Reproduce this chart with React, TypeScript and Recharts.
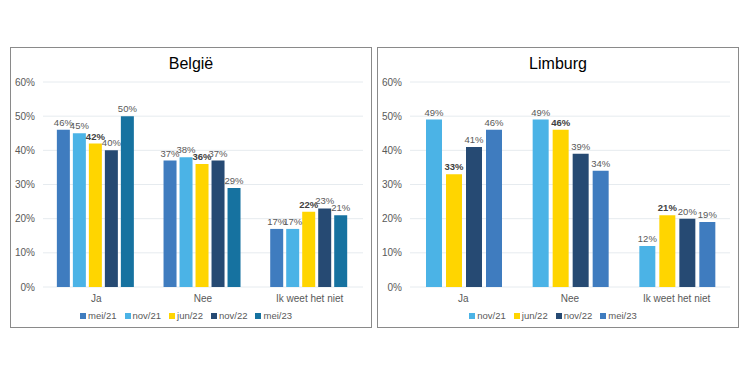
import React from "react";
import { BarChart, Bar, XAxis, YAxis, CartesianGrid, Legend, LabelList } from "recharts";

const categories = ["Ja", "Nee", "Ik weet het niet"];

// België
const belgieSeries = ["mei/21", "nov/21", "jun/22", "nov/22", "mei/23"];
const belgieMei21 = [46, 37, 17];
const belgieNov21 = [45, 38, 17];
const belgieJun22 = [42, 36, 22];
const belgieNov22 = [40, 37, 23];
const belgieMei23 = [50, 29, 21];

// Limburg
const limburgSeries = ["nov/21", "jun/22", "nov/22", "mei/23"];
const limburgNov21 = [49, 49, 12];
const limburgJun22 = [33, 46, 21];
const limburgNov22 = [41, 39, 20];
const limburgMei23 = [46, 34, 19];

const yTicks = [0, 10, 20, 30, 40, 50, 60];

const FONT = "'Liberation Sans', Arial, sans-serif";
const TEXT = "#595959";

const belgieColors: Record<string, string> = {
  "mei/21": "#3F7CBF",
  "nov/21": "#4BB3E6",
  "jun/22": "#FFD500",
  "nov/22": "#264A73",
  "mei/23": "#1672A0",
};
const limburgColors: Record<string, string> = {
  "nov/21": "#4BB3E6",
  "jun/22": "#FFD500",
  "nov/22": "#264A73",
  "mei/23": "#3F7CBF",
};

const belgieData = categories.map((c, i) => ({
  name: c,
  "mei/21": belgieMei21[i],
  "nov/21": belgieNov21[i],
  "jun/22": belgieJun22[i],
  "nov/22": belgieNov22[i],
  "mei/23": belgieMei23[i],
}));

const limburgData = categories.map((c, i) => ({
  name: c,
  "nov/21": limburgNov21[i],
  "jun/22": limburgJun22[i],
  "nov/22": limburgNov22[i],
  "mei/23": limburgMei23[i],
}));

function LegendContent({ payload, order }: any) {
  const items = [...(payload || [])].sort(
    (a: any, b: any) => order.indexOf(a.value) - order.indexOf(b.value)
  );
  return (
    <div style={{ display: "flex", justifyContent: "center", height: 20, alignItems: "center", gap: 8 }}>
      {items.map((p: any) => (
        <span
          key={p.value}
          style={{ display: "flex", alignItems: "center", fontSize: 9.5, color: TEXT, fontFamily: FONT }}
        >
          <span style={{ width: 6, height: 6, background: p.color, marginRight: 2, display: "inline-block" }} />
          {p.value}
        </span>
      ))}
    </div>
  );
}

interface PanelProps {
  title: string;
  left: number;
  width: number;
  data: any[];
  series: string[];
  colors: Record<string, string>;
  yWidth: number;
  gap: string;
  barGap: number;
}

function Panel({ title, left, width, data, series, colors, yWidth, gap, barGap }: PanelProps) {
  return (
    <div
      style={{
        position: "absolute",
        left,
        top: 47,
        width,
        height: 281,
        border: "1.5px solid #8a8a8a",
        boxSizing: "border-box",
        background: "#fff",
      }}
    >
      <div
        style={{
          position: "absolute",
          top: 7,
          width: "100%",
          textAlign: "center",
          fontFamily: FONT,
          fontSize: 16,
          color: "#000",
        }}
      >
        {title}
      </div>
      <div style={{ position: "absolute", left: -1.5, top: -1.5 }}>
        <BarChart
          width={width}
          height={281}
          data={data}
          margin={{ top: 35, right: width - yWidth - 320, bottom: 0, left: 0 }}
          barCategoryGap={gap}
          barGap={barGap}
        >
          <CartesianGrid vertical={false} stroke="#E6EBEF" />
          <XAxis
            dataKey="name"
            axisLine={false}
            tickLine={false}
            height={21}
            tick={{ fill: TEXT, fontSize: 10, fontFamily: FONT }}
          />
          <YAxis
            domain={[0, 60]}
            ticks={yTicks}
            width={yWidth}
            axisLine={false}
            tickLine={false}
            tickFormatter={(v) => `${v}%`}
            tick={{ fill: TEXT, fontSize: 10, fontFamily: FONT }}
          />
          <Legend
            verticalAlign="bottom"
            wrapperStyle={{ bottom: 2 }}
            content={<LegendContent order={series} />}
          />
          {series.map((s) => (
            <Bar key={s} dataKey={s} fill={colors[s]} isAnimationActive={false}>
              <LabelList
                dataKey={s}
                position="top"
                offset={4}
                formatter={(v: any) => `${v}%`}
                style={{
                  fill: s === "jun/22" ? "#404040" : TEXT,
                  fontSize: 9.5,
                  fontFamily: FONT,
                  fontWeight: s === "jun/22" ? 700 : 400,
                }}
              />
            </Bar>
          ))}
        </BarChart>
      </div>
    </div>
  );
}

export default function App() {
  return (
    <div style={{ position: "absolute", left: 0, top: 0, width: 749, height: 378, background: "#fff" }}>
      <Panel
        title="België"
        left={10}
        width={362}
        data={belgieData}
        series={belgieSeries}
        colors={belgieColors}
        yWidth={33}
        gap="13%"
        barGap={3}
      />
      <Panel
        title="Limburg"
        left={377}
        width={362}
        data={limburgData}
        series={limburgSeries}
        colors={limburgColors}
        yWidth={33}
        gap="15%"
        barGap={4}
      />
    </div>
  );
}
